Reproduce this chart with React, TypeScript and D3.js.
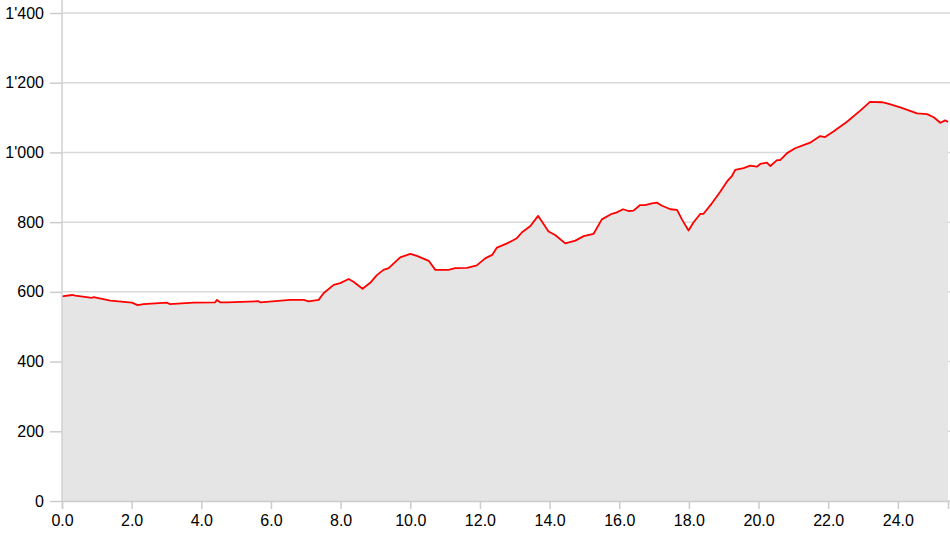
import React, { useEffect, useRef } from 'react'
import * as d3 from 'd3'

// distance along the route in km
const distance = [
  0, 0.29, 0.38, 0.86, 0.91, 1.39, 2.01, 2.17, 2.34, 3.01, 3.09, 3.78, 4.4, 4.45, 4.54, 4.74,
  5.64, 5.69, 6.55, 6.94, 7.08, 7.37, 7.51, 7.8, 7.99, 8.23, 8.37, 8.63, 8.85, 9.04, 9.23,
  9.38, 9.71, 10.0, 10.19, 10.53, 10.72, 11.1, 11.29, 11.63, 11.91, 12.15, 12.35, 12.49,
  12.78, 13.06, 13.21, 13.45, 13.67, 13.97, 14.16, 14.45, 14.74, 14.98, 15.26, 15.5, 15.79,
  15.93, 16.11, 16.27, 16.41, 16.6, 16.74, 16.94, 17.08, 17.23, 17.47, 17.66, 17.8, 17.99,
  18.13, 18.33, 18.42, 18.66, 18.9, 19.09, 19.24, 19.33, 19.57, 19.76, 19.95, 20.05, 20.24,
  20.34, 20.53, 20.62, 20.82, 21.05, 21.29, 21.48, 21.77, 21.91, 22.15, 22.54, 22.92, 23.2,
  23.54, 23.69, 24.07, 24.55, 24.84, 25.03, 25.22, 25.36, 25.44
]

// elevation in m
const elevation = [
  587, 591, 589, 583, 585, 575, 569, 562, 565, 569, 565, 569, 570, 577, 570, 570,
  573, 570, 577, 577, 573, 577, 596, 620, 625, 637, 629, 609, 626, 648, 663,
  668, 699, 709, 703, 689, 663, 663, 668, 669, 676, 696, 706, 727,
  739, 754, 771, 789, 818, 773, 763, 739, 747, 760, 766, 808, 824,
  828, 837, 832, 833, 849, 849, 854, 856, 847, 837, 835, 808, 776,
  799, 824, 824, 854, 887, 916, 933, 950, 955, 962, 959, 967, 971,
  961, 978, 978, 998, 1012, 1021, 1028, 1047, 1044, 1060, 1088, 1120, 1145,
  1144, 1141, 1129, 1112, 1110, 1101, 1085, 1092, 1087
]

const yTicks = [0, 200, 400, 600, 800, 1000, 1200, 1400]
const xTicks = [0, 2, 4, 6, 8, 10, 12, 14, 16, 18, 20, 22, 24]

const W = 950,
      H = 538,
      LEFT = 62,
      RIGHT = 948,
      BOTTOM = 501,
      TOP = 13

export default function App() {
  const ref = useRef<SVGSVGElement | null>(null)

  useEffect(() => {
    const svg = d3.select(ref.current)
    svg.selectAll('*').remove()

    const data = distance.map((d, i) => [d, elevation[i]] as [number, number])

    const x = d3.scaleLinear().domain([0, distance[distance.length - 1]]).range([LEFT, RIGHT])
    const y = d3.scaleLinear().domain([0, 1400]).range([BOTTOM, TOP])

    const swiss = d3.formatLocale({ decimal: '.', thousands: "'", grouping: [3], currency: ['', ''] })
    const fmtY = swiss.format(',')

    // grid lines
    svg.append('g')
      .selectAll('line')
      .data(yTicks)
      .enter()
      .append('line')
      .attr('x1', LEFT)
      .attr('x2', W)
      .attr('y1', d => y(d))
      .attr('y2', d => y(d))
      .attr('stroke', '#d9d9d9')
      .attr('stroke-width', 1.5)

    // area + line
    const area = d3.area<[number, number]>()
      .x(d => x(d[0]))
      .y0(y(0))
      .y1(d => y(d[1]))

    const line = d3.line<[number, number]>()
      .x(d => x(d[0]))
      .y(d => y(d[1]))

    svg.append('path')
      .datum(data)
      .attr('d', area)
      .attr('fill', '#e5e5e5')

    svg.append('path')
      .datum(data)
      .attr('d', line)
      .attr('fill', 'none')
      .attr('stroke', '#ff0000')
      .attr('stroke-width', 1.8)
      .attr('stroke-linejoin', 'round')

    // y axis
    const yAxis = svg.append('g')
      .attr('transform', `translate(${LEFT},0)`)
      .call(d3.axisLeft(y).tickValues(yTicks).tickFormat(d => fmtY(d as number)).tickSize(12).tickPadding(6))
    yAxis.select('.domain').remove()
    yAxis.append('line')
      .attr('x1', 0).attr('x2', 0)
      .attr('y1', 0).attr('y2', BOTTOM)
      .attr('stroke', '#d0d0d0').attr('stroke-width', 1.5)

    // x axis
    const xAxis = svg.append('g')
      .attr('transform', `translate(0,${BOTTOM})`)
      .call(d3.axisBottom(x).tickValues(xTicks).tickFormat(d3.format('.1f')).tickSize(8).tickSizeOuter(8).tickPadding(6))

    svg.selectAll('.tick line').attr('stroke', '#cccccc').attr('stroke-width', 1.5)
    xAxis.select('.domain').attr('stroke', '#cccccc').attr('stroke-width', 1.5)
    svg.selectAll('.tick text')
      .attr('fill', '#000')
      .attr('font-size', 16)
      .attr('font-family', 'Liberation Sans, Arial, sans-serif')
  }, [])

  return <svg ref={ref} width={W} height={H} style={{ position: 'absolute', left: 0, top: 0 }} />
}
